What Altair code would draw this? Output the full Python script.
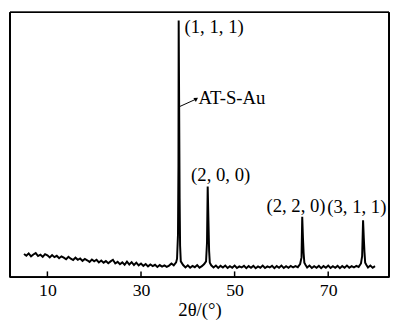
import altair as alt
import pandas as pd

# ---- data (2θ in degrees, intensity in arbitrary units 0-1000) ----
two_theta = [
    5.0, 5.5, 6.0, 6.5, 7.0, 7.5, 8.0, 8.5, 9.0, 9.5,
    10.0, 10.5, 11.0, 11.5, 12.0, 12.5, 13.0, 13.5, 14.0, 14.5,
    15.0, 15.5, 16.0, 16.5, 17.0, 17.5, 18.0, 18.5, 19.0, 19.5,
    20.0, 20.5, 21.0, 21.5, 22.0, 22.5, 23.0, 23.5, 24.0, 24.5,
    25.0, 25.5, 26.0, 26.5, 27.0, 27.5, 28.0, 28.5, 29.0, 29.5,
    30.0, 30.5, 31.0, 31.5, 32.0, 32.5, 33.0, 33.5, 34.0, 34.5,
    35.0, 35.5, 36.0, 36.5, 37.0, 37.5,
    37.7, 37.9, 38.0, 38.05, 38.15, 38.25, 38.35, 38.5,
    39.0, 39.5, 40.0, 40.5, 41.0, 41.5, 42.0, 42.5, 43.0, 43.5,
    43.9, 44.1, 44.25, 44.4, 44.55, 44.7, 45.0,
    45.5, 46.0, 46.5, 47.0, 47.5, 48.0, 48.5, 49.0, 49.5, 50.0,
    50.5, 51.0, 51.5, 52.0, 52.5, 53.0, 53.5, 54.0, 54.5, 55.0,
    55.5, 56.0, 56.5, 57.0, 57.5, 58.0, 58.5, 59.0, 59.5, 60.0,
    60.5, 61.0, 61.5, 62.0, 62.5, 63.0, 63.5, 64.0,
    64.3, 64.45, 64.6, 64.75, 64.9, 65.2,
    65.5, 66.0, 66.5, 67.0, 67.5, 68.0, 68.5, 69.0, 69.5, 70.0,
    70.5, 71.0, 71.5, 72.0, 72.5, 73.0, 73.5, 74.0, 74.5, 75.0,
    75.5, 76.0, 76.5, 77.0,
    77.25, 77.45, 77.6, 77.75, 77.9, 78.2,
    78.5, 79.0, 79.5, 80.0,
]
intensity = [
    88, 81, 90, 79, 86, 91, 80, 85, 77, 87,
    83, 75, 84, 76, 81, 72, 79, 74, 68, 77,
    70, 65, 74, 66, 71, 62, 69, 64, 58, 67,
    60, 66, 56, 63, 55, 61, 53, 60, 66, 52,
    58, 49, 56, 47, 59, 48, 57, 46, 55, 45,
    52, 43, 50, 41, 48, 42, 47, 39, 46, 40,
    45, 39, 44, 52, 45, 56,
    70, 160, 420, 969, 640, 300, 120, 60,
    46, 37, 45, 36, 43, 38, 46, 36, 42, 50,
    60, 130, 343, 220, 100, 55, 45,
    37, 44, 35, 43, 37, 44, 35, 42, 36, 44,
    35, 41, 37, 43, 34, 42, 36, 43, 34, 41,
    36, 44, 35, 41, 37, 43, 34, 42, 36, 44,
    35, 42, 36, 43, 37, 42, 38, 50,
    75, 228, 150, 90, 55, 45,
    37, 44, 35, 42, 36, 43, 34, 42, 36, 44,
    35, 42, 36, 43, 34, 42, 36, 44, 36, 42,
    37, 43, 39, 52,
    80, 215, 150, 95, 55, 45,
    37, 44, 36, 42,
]

peak_labels = ["(1, 1, 1)", "(2, 0, 0)", "(2, 2, 0)", "(3, 1, 1)", "AT-S-Au"]
label_x = [39.3, 40.7, 56.8, 69.8, 42.3]
label_y = [945, 384, 270, 263, 675]

arrow_x = [38.2]
arrow_x2 = [41.7]
arrow_y = [644]
arrow_y2 = [672]

tick_values = [10, 30, 50, 70]
tick_bottom = [0, 0, 0, 0]
tick_top = [22, 22, 22, 22]

SERIF = "Times New Roman, Liberation Serif, serif"

df = pd.DataFrame({"t": two_theta, "i": intensity})
lab = pd.DataFrame({"label": peak_labels, "x": label_x, "y": label_y})
arr = pd.DataFrame({"x": arrow_x, "x2": arrow_x2, "y": arrow_y, "y2": arrow_y2})
ticks = pd.DataFrame({"x": tick_values, "y0": tick_bottom, "y1": tick_top})

xscale = alt.Scale(domain=[2, 83], nice=False, zero=False)
yscale = alt.Scale(domain=[0, 1000], nice=False, zero=True)

line = alt.Chart(df).mark_line(color="black", strokeWidth=2).encode(
    x=alt.X("t:Q", scale=xscale, title="2θ/(°)",
            axis=alt.Axis(values=tick_values, ticks=False, domain=False, grid=False,
                          labelFont=SERIF, labelFontSize=18, labelColor="black",
                          labelPadding=5, titleFont=SERIF, titleFontSize=19,
                          titleFontWeight="normal", titleColor="black", titlePadding=1)),
    y=alt.Y("i:Q", scale=yscale, axis=None),
)

texts = alt.Chart(lab).mark_text(align="left", baseline="middle", font=SERIF,
                                  fontSize=19, color="black").encode(
    x=alt.X("x:Q", scale=xscale),
    y=alt.Y("y:Q", scale=yscale, axis=None),
    text="label:N",
)

arrow_line = alt.Chart(arr).mark_rule(color="black", strokeWidth=1).encode(
    x=alt.X("x:Q", scale=xscale), x2="x2:Q",
    y=alt.Y("y:Q", scale=yscale, axis=None), y2="y2:Q",
)
arrow_head = alt.Chart(arr).mark_point(shape="triangle", filled=True, color="black",
                                       size=22, angle=58, opacity=1).encode(
    x=alt.X("x2:Q", scale=xscale),
    y=alt.Y("y2:Q", scale=yscale, axis=None),
)

tick_marks = alt.Chart(ticks).mark_rule(color="black", strokeWidth=1.5).encode(
    x=alt.X("x:Q", scale=xscale),
    y=alt.Y("y0:Q", scale=yscale, axis=None),
    y2="y1:Q",
)

# frame: four edges of the plot area
edge_top = alt.Chart(ticks).mark_rule(color="black", strokeWidth=1.5).encode(
    x=alt.value(0), x2=alt.value("width"), y=alt.value(0))
edge_bottom = alt.Chart(ticks).mark_rule(color="black", strokeWidth=1.5).encode(
    x=alt.value(0), x2=alt.value("width"), y=alt.value("height"))
edge_left = alt.Chart(ticks).mark_rule(color="black", strokeWidth=1.5).encode(
    y=alt.value(0), y2=alt.value("height"), x=alt.value(0))
edge_right = alt.Chart(ticks).mark_rule(color="black", strokeWidth=1.5).encode(
    y=alt.value(0), y2=alt.value("height"), x=alt.value("width"))

chart = alt.layer(line, tick_marks, arrow_line, arrow_head, texts,
                  edge_top, edge_bottom, edge_left, edge_right).properties(
    width=390, height=314,
    autosize=alt.AutoSizeParams(type="fit", contains="padding"),
    padding={"left": 1, "top": 1, "right": 2, "bottom": 0},
).configure(background="white").configure_view(stroke=None)

chart.save("out.html", embed_options={"renderer": "svg", "actions": False})
